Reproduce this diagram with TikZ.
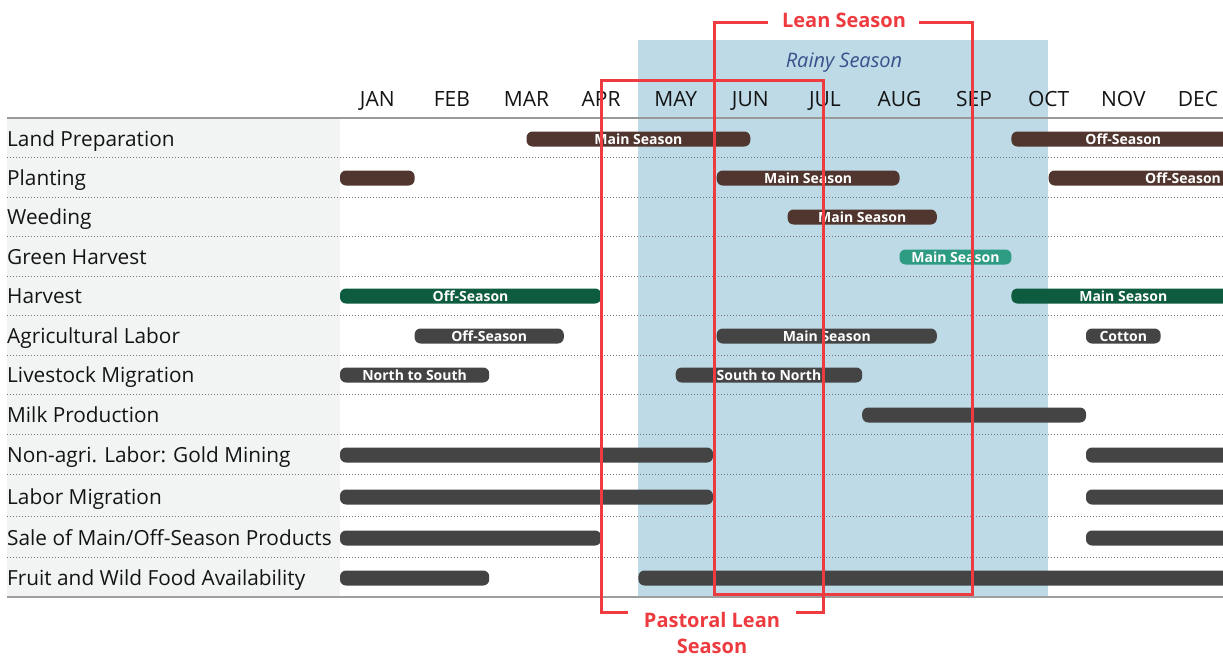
\documentclass[tikz,border=0pt]{standalone}
\usepackage{fontspec}
\setmainfont{Open Sans}
\usetikzlibrary{positioning}
\definecolor{soilbrown}{RGB}{80,54,47}
\definecolor{bargray}{RGB}{68,68,68}
\definecolor{cropgreen}{RGB}{14,92,64}
\definecolor{greenharv}{RGB}{46,155,131}
\definecolor{rainblue}{RGB}{189,218,230}
\definecolor{leanred}{RGB}{238,59,64}
\definecolor{panegray}{RGB}{242,244,243}
\definecolor{rainytext}{RGB}{58,80,140}
\tikzset{rowlbl/.style={anchor=base west, inner sep=0pt, text=black!92, font=\fontsize{20.8}{20.8}\selectfont}}
\tikzset{monthlbl/.style={anchor=base, inner sep=0pt, text=black!92, font=\fontsize{21}{21}\selectfont}}
\tikzset{actbar/.style={rounded corners=6pt, minimum height=15pt, inner sep=0pt, text=white, font=\bfseries\fontsize{14}{14}\selectfont}}
\tikzset{gridrule/.style={draw=black!55, dotted, line width=1pt}}
\tikzset{leanline/.style={draw=leanred, line width=3pt}}
\tikzset{leanlbl/.style={anchor=base, inner sep=0pt, text=leanred, font=\bfseries\fontsize{20}{20}\selectfont}}

\begin{document}
\begin{tikzpicture}[x=1pt, y=-1pt]
			\clip (0,0) rectangle (1223,656);
			\fill[white] (0,0) rectangle (1223,656);
			% rainy season band
			\fill[rainblue] (638,40) rectangle (1048,597);
			\node[anchor=base, inner sep=0pt, text=rainytext, font=\itshape\fontsize{20}{20}\selectfont] (rainy) at (844,67) {Rainy Season};
			% activity pane and rules
			\fill[panegray] (7,118) rectangle (340,597);
			\foreach \y in {157,197,236,276,315,355,394,434,474,516,557}
				\draw[gridrule] (7,\y) -- (1223,\y);
			\draw[black!40, line width=1.3pt] (7,118) -- (1223,118);
			\draw[black!38, line width=2pt] (7,597) -- (1223,597);
			%
			\foreach \m [count=\i from 0] in {JAN,FEB,MAR,APR,MAY,JUN,JUL,AUG,SEP,OCT,NOV,DEC}
				\node[monthlbl] (mon\i) at ({377.3+74.6*\i},106) {\m};
			\foreach \t/\y [count=\i] in {Land Preparation/139, Planting/178, Weeding/217,
					Green Harvest/257, Harvest/296, Agricultural Labor/336, Livestock Migration/375,
					Milk Production/415, Non-agri. Labor: Gold Mining/455, Labor Migration/497,
					{Sale of Main/Off-Season Products}/538, Fruit and Wild Food Availability/578}
				\node[rowlbl] (act\i) at (7,\y+7.5) {\t};
			% bars, in months from JAN
			\begin{scope}[xshift=340pt, x=74.6pt]
				\foreach \a/\b/\y/\c/\t [count=\i] in {
						2.5/5.5/139/soilbrown/Main Season, 9/12/139/soilbrown/Off-Season,
						0/1/178/soilbrown/{}, 5.05/7.5/178/soilbrown/Main Season, 9.5/13.1/178/soilbrown/Off-Season,
						6/8/217/soilbrown/Main Season,
						7.5/9/257/greenharv/Main Season,
						0/3.5/296/cropgreen/Off-Season, 9/12/296/cropgreen/Main Season,
						1/3/336/bargray/Off-Season, 5.05/8/336/bargray/Main Season, 10/11/336/bargray/Cotton,
						0/2/375/bargray/North to South, 4.5/7/375/bargray/South to North,
						7/10/415/bargray/{},
						0/5/455/bargray/{}, 10/12.5/455/bargray/{},
						0/5/497/bargray/{}, 10/12.5/497/bargray/{},
						0/3.5/538/bargray/{}, 10/12.5/538/bargray/{},
						0/2/578/bargray/{}, 4/12.5/578/bargray/{}}
					\node[actbar, fill=\c, minimum width={(\b-\a)*74.6pt}] (bar\i) at ({(\a+\b)/2},\y) {\t};
			\end{scope}
			% lean seasons
			\node[leanlbl] (lean) at (844,27) {Lean Season};
			\draw[leanline] (919,22) -- (972,22) -- (972,594) -- (714,594) -- (714,22) -- (768,22);
			\node[leanlbl] (pastoral) at (712,627) {Pastoral Lean};
			\node[leanlbl] (pastoral2) at (712,653) {Season};
			\draw[leanline] (628,612) -- (601,612) -- (601,80) -- (823,80) -- (823,612) -- (796,612);
		\end{tikzpicture}
\end{document}
